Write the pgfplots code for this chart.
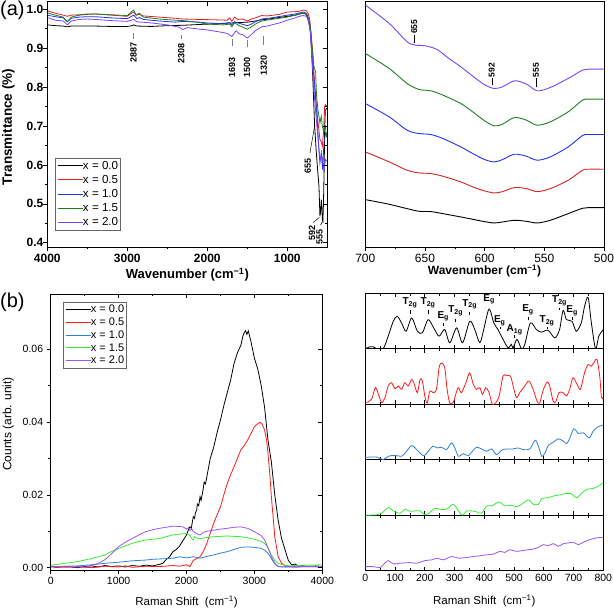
\documentclass[border=0pt]{standalone}
\usepackage{fontspec}
\setmainfont{Liberation Sans}
\usepackage{pgfplots}
\pgfplotsset{compat=1.18}
\definecolor{ared}{HTML}{DD2222}
\definecolor{ablue}{HTML}{2233EE}
\definecolor{agreen}{HTML}{1F7F1F}
\definecolor{apurple}{HTML}{7744FF}
\definecolor{bred}{HTML}{FF1A1A}
\definecolor{bblue}{HTML}{2E7FD9}
\definecolor{bgreen}{HTML}{33EE33}
\definecolor{bpurple}{HTML}{9955F5}
\newcommand{\fs}[1]{\fontsize{#1}{#1}\selectfont}
\pgfplotsset{
  base/.style={scale only axis, anchor=south west, scaled ticks=false,
    /pgf/number format/assume math mode=true, /pgf/number format/1000 sep={},
    major tick length=4pt, minor tick length=2.5pt,
    axis line style={line width=0.8pt},
    every tick/.style={line width=0.6pt, black}},
  sub/.style={base, width=238pt, height=55.5pt, xmin=0, xmax=800, ymin=0, ymax=1,
    ytick=\empty, xtick={0,100,...,800}, minor x tick num=1, tick align=inside,
    xtick pos=both, xticklabels={}},
}
\begin{document}
\begin{tikzpicture}[x=1pt,y=1pt]
\useasboundingbox (0,0) rectangle (614,611);

% ---------------- panel (a) left ----------------
\begin{axis}[base, at={(47.3pt,364pt)}, width=280pt, height=245.3pt, x dir=reverse,
  xmin=500, xmax=4000, ymin=0.389, ymax=1.0196,
  xtick={1000,2000,3000,4000}, minor x tick num=1,
  ytick={0.4,0.5,0.6,0.7,0.8,0.9,1.0}, minor y tick num=1,
  tick align=outside, xtick pos=bottom, ytick pos=left,
  ticklabel style={font=\bfseries\fs{12}},
  yticklabel style={xshift=3.5pt,/pgf/number format/fixed,/pgf/number format/fixed zerofill,/pgf/number format/precision=1},
  legend style={at={(0.0275,0.069)}, anchor=south west, font=\fs{11.6}, draw=black!60,
    row sep=3.2pt, inner xsep=2pt, inner ysep=2pt,
    nodes={inner sep=0pt, text height=9pt, text depth=2pt}, cells={anchor=west},
    /tikz/every even column/.append style={column sep=3pt}},
  legend image code/.code={\draw[#1] (0pt,0pt) -- (25pt,0pt);},
  every axis plot/.append style={line width=0.8pt}]
\addplot[black] coordinates {(4000,0.960)(3900,0.958)(3800,0.957)(3750,0.955)(3700,0.957)(3600,0.957)(3400,0.957)(3200,0.956)(3000,0.956)(2940,0.958)(2920,0.960)(2880,0.957)(2700,0.956)(2500,0.958)(2300,0.959)(2100,0.961)(2000,0.962)(1800,0.964)(1693,0.965)(1600,0.966)(1500,0.967)(1400,0.970)(1320,0.973)(1200,0.976)(1000,0.982)(900,0.985)(850,0.988)(800,0.990)(770,0.988)(745,0.978)(725,0.960)(708,0.939)(687,0.853)(675,0.790)(658,0.700)(640,0.640)(620,0.585)(604,0.545)(592,0.468)(583,0.480)(575,0.511)(568,0.490)(562,0.460)(555,0.455)(548,0.500)(540,0.580)(532,0.700)(525,0.740)(510,0.745)(500,0.745)};
\addlegendentry{x = 0.0}
\addplot[ared] coordinates {(4000,0.996)(3900,0.990)(3800,0.985)(3750,0.982)(3700,0.985)(3600,0.986)(3500,0.988)(3400,0.988)(3200,0.985)(3000,0.982)(2940,0.991)(2920,0.993)(2890,0.985)(2850,0.987)(2800,0.983)(2600,0.980)(2400,0.977)(2300,0.975)(2100,0.974)(1900,0.973)(1750,0.972)(1720,0.978)(1693,0.969)(1660,0.980)(1620,0.974)(1560,0.975)(1500,0.970)(1450,0.975)(1400,0.978)(1320,0.984)(1250,0.983)(1100,0.987)(1000,0.993)(900,0.994)(850,0.995)(800,0.998)(760,0.996)(740,0.990)(720,0.975)(708,0.950)(687,0.900)(667,0.836)(645,0.775)(624,0.725)(605,0.690)(592,0.665)(575,0.660)(562,0.648)(545,0.690)(533,0.751)(520,0.755)(508,0.751)(500,0.750)};
\addlegendentry{x = 0.5}
\addplot[ablue] coordinates {(4000,0.985)(3900,0.981)(3800,0.978)(3750,0.968)(3700,0.977)(3600,0.980)(3500,0.981)(3400,0.981)(3200,0.978)(3000,0.976)(2920,0.985)(2880,0.976)(2850,0.979)(2800,0.974)(2600,0.970)(2400,0.967)(2300,0.969)(2100,0.967)(2000,0.965)(1800,0.963)(1720,0.966)(1693,0.960)(1660,0.968)(1600,0.964)(1500,0.958)(1450,0.962)(1400,0.968)(1320,0.975)(1200,0.978)(1000,0.985)(900,0.988)(800,0.993)(760,0.990)(740,0.980)(720,0.965)(708,0.940)(687,0.870)(658,0.802)(635,0.740)(624,0.708)(605,0.640)(592,0.605)(575,0.631)(558,0.588)(542,0.656)(521,0.682)(508,0.680)(500,0.680)};
\addlegendentry{x = 1.0}
\addplot[agreen] coordinates {(4000,0.991)(3900,0.985)(3800,0.980)(3750,0.968)(3700,0.980)(3600,0.985)(3500,0.987)(3400,0.988)(3200,0.986)(3000,0.984)(2940,0.995)(2920,0.998)(2890,0.985)(2850,0.990)(2800,0.980)(2600,0.975)(2400,0.972)(2300,0.971)(2100,0.966)(2000,0.962)(1800,0.960)(1720,0.962)(1693,0.955)(1660,0.965)(1600,0.958)(1500,0.949)(1450,0.955)(1400,0.962)(1320,0.970)(1200,0.974)(1000,0.980)(900,0.985)(800,0.990)(760,0.988)(740,0.978)(720,0.965)(708,0.945)(687,0.900)(667,0.853)(655,0.845)(646,0.840)(635,0.780)(617,0.742)(592,0.708)(575,0.725)(562,0.700)(545,0.685)(525,0.699)(508,0.673)(500,0.670)};
\addlegendentry{x = 1.5}
\addplot[apurple] coordinates {(4000,0.979)(3900,0.972)(3800,0.970)(3750,0.960)(3700,0.970)(3600,0.974)(3500,0.975)(3400,0.974)(3200,0.971)(3000,0.969)(2920,0.974)(2880,0.968)(2700,0.965)(2500,0.960)(2350,0.954)(2308,0.948)(2250,0.953)(2100,0.949)(2000,0.947)(1850,0.942)(1750,0.938)(1693,0.930)(1660,0.940)(1640,0.945)(1600,0.937)(1550,0.934)(1500,0.926)(1450,0.935)(1400,0.945)(1320,0.955)(1250,0.957)(1100,0.965)(1000,0.972)(900,0.978)(850,0.982)(800,0.984)(760,0.982)(740,0.972)(720,0.955)(708,0.930)(687,0.860)(658,0.768)(630,0.700)(604,0.639)(592,0.620)(583,0.614)(575,0.622)(562,0.620)(542,0.588)(521,0.614)(510,0.610)(500,0.610)};
\addlegendentry{x = 2.0}
% annotations
\draw[gray,line width=0.6pt] (axis cs:2922,0.938) -- (axis cs:2922,0.923);
\node[rotate=90,font=\bfseries\fs{9}] at (axis cs:2922,0.890) {2887};
\draw[gray,line width=0.6pt] (axis cs:2325,0.934) -- (axis cs:2325,0.924);
\node[rotate=90,font=\bfseries\fs{9}] at (axis cs:2325,0.887) {2308};
\draw[gray,line width=0.6pt] (axis cs:1690,0.923) -- (axis cs:1690,0.906);
\node[rotate=90,font=\bfseries\fs{9}] at (axis cs:1690,0.851) {1693};
\draw[gray,line width=0.6pt] (axis cs:1502,0.921) -- (axis cs:1502,0.904);
\node[rotate=90,font=\bfseries\fs{9}] at (axis cs:1502,0.851) {1500};
\draw[gray,line width=0.6pt] (axis cs:1294,0.932) -- (axis cs:1294,0.909);
\node[rotate=90,font=\bfseries\fs{9}] at (axis cs:1294,0.856) {1320};
\node[rotate=90,font=\bfseries\fs{9}] at (axis cs:745,0.597) {655};
\draw[black,line width=0.5pt] (axis cs:717,0.631) -- (axis cs:658,0.700);
\node[rotate=90,font=\bfseries\fs{9}] at (axis cs:690,0.425) {592};
\node[rotate=90,font=\bfseries\fs{9}] at (axis cs:595,0.415) {555};
\draw[black,line width=0.5pt] (axis cs:675,0.452) -- (axis cs:600,0.465);
\draw[black,line width=0.5pt] (axis cs:585,0.445) -- (axis cs:560,0.455);
\end{axis}
\begin{axis}[base, at={(47.3pt,364pt)}, width=280pt, height=245.3pt, x dir=reverse,
  xmin=500, xmax=4000, ymin=0.389, ymax=1.0196,
  xtick={1000,2000,3000,4000}, minor x tick num=1,
  ytick={0.4,0.5,0.6,0.7,0.8,0.9,1.0}, minor y tick num=1,
  tick align=inside, xtick pos=top, ytick pos=right, xticklabels={}, yticklabels={}]
\end{axis}
\node[anchor=north west,inner sep=0pt,font=\fs{20}] at (0,610) {(a)};
\node[rotate=90,font=\bfseries\fs{13.5}] at (8.3,484) {Transmittance (\%)};
\node[font=\bfseries\fs{13}] at (187.3,336) {Wavenumber (cm\textsuperscript{−1})};

% ---------------- panel (a) right ----------------
\begin{axis}[base, at={(365.3pt,364pt)}, width=238.7pt, height=245.3pt, x dir=reverse,
  xmin=500, xmax=700, ymin=0, ymax=735, ytick=\empty,
  xtick={500,550,600,650,700}, minor x tick num=1, tick align=outside, xtick pos=bottom,
  ticklabel style={font=\fs{12}},
  every axis plot/.append style={line width=0.9pt, smooth}]
\addplot[black] coordinates {(700,142)(680,128)(665,115)(655,107)(645,106)(635,100)(620,90)(610,83)(600,76)(592,72)(585,75)(575,80)(565,77)(556,72)(545,80)(530,100)(518,116)(513,118)(500,118)};
\addplot[ared] coordinates {(700,285)(680,255)(665,230)(655,222)(645,220)(635,212)(620,195)(610,180)(600,168)(592,162)(585,166)(575,178)(565,175)(556,166)(545,175)(530,200)(518,230)(513,233)(500,233)};
\addplot[ablue] coordinates {(700,430)(680,390)(665,350)(655,340)(645,337)(635,325)(620,300)(610,280)(600,262)(592,255)(585,262)(575,278)(565,272)(556,260)(545,270)(530,300)(518,334)(513,337)(500,337)};
\addplot[agreen] coordinates {(700,580)(680,535)(665,490)(655,472)(645,468)(635,455)(620,430)(610,405)(600,378)(592,363)(585,368)(575,388)(565,380)(556,365)(545,375)(530,405)(518,440)(513,443)(500,443)};
\addplot[apurple] coordinates {(700,725)(680,670)(665,615)(658,605)(650,603)(640,592)(630,565)(620,540)(610,512)(600,486)(592,475)(585,480)(575,498)(565,488)(556,468)(545,478)(530,505)(518,530)(513,533)(500,533)};
\draw[black,line width=0.6pt] (axis cs:659,610) -- (axis cs:659,635);
\node[rotate=90,font=\bfseries\fs{8.5}] at (axis cs:659,660) {655};
\draw[black,line width=0.6pt] (axis cs:594,485) -- (axis cs:594,505);
\node[rotate=90,font=\bfseries\fs{8.5}] at (axis cs:594,530) {592};
\draw[black,line width=0.6pt] (axis cs:557,480) -- (axis cs:557,505);
\node[rotate=90,font=\bfseries\fs{8.5}] at (axis cs:557,530) {555};
\end{axis}
\node[font=\bfseries\fs{12}] at (484.5,340) {Wavenumber (cm\textsuperscript{−1})};

% ---------------- panel (b) left ----------------
\begin{axis}[base, at={(50.7pt,41pt)}, width=271.6pt, height=276pt,
  xmin=0, xmax=4000, ymin=-0.00063, ymax=0.0751,
  xtick={0,1000,2000,3000,4000}, minor x tick num=1,
  ytick={0,0.02,0.04,0.06}, minor y tick num=1,
  yticklabel style={/pgf/number format/fixed,/pgf/number format/fixed zerofill,/pgf/number format/precision=2},
  tick align=outside, xtick pos=bottom, ytick pos=left,
  ticklabel style={font=\fs{10.5}},
  legend style={at={(0.045,0.971)}, anchor=north west, font=\fs{11}, draw=black!60,
    row sep=2.3pt, inner xsep=2pt, inner ysep=2pt,
    nodes={inner sep=0pt, text height=8.5pt, text depth=2pt}, cells={anchor=west},
    /tikz/every even column/.append style={column sep=3pt}},
  legend image code/.code={\draw[#1] (0pt,0pt) -- (25pt,0pt);},
  every axis plot/.append style={line width=0.8pt}]
\addplot[black] coordinates {(0,0.0003)(100,0.0001)(200,0.0004)(300,0.0002)(400,0.0000)(500,0.0003)(600,0.0005)(700,0.0002)(800,0.0006)(900,0.0003)(1000,0.0005)(1100,0.0002)(1200,0.0006)(1300,0.0004)(1400,0.0007)(1500,0.0005)(1600,0.0009)(1650,0.0012)(1700,0.0022)(1750,0.0030)(1800,0.0044)(1850,0.0050)(1900,0.0060)(1950,0.0075)(2000,0.0090)(2030,0.0105)(2050,0.0112)(2070,0.0108)(2100,0.0140)(2120,0.0135)(2130,0.0150)(2150,0.0158)(2160,0.0175)(2180,0.0170)(2200,0.0195)(2215,0.0185)(2230,0.0200)(2245,0.0215)(2260,0.0235)(2280,0.0230)(2300,0.0250)(2350,0.0300)(2400,0.0330)(2450,0.0370)(2500,0.0405)(2550,0.0445)(2600,0.0480)(2650,0.0515)(2700,0.0560)(2750,0.0590)(2800,0.0610)(2830,0.0635)(2850,0.0645)(2870,0.0650)(2890,0.0640)(2910,0.0650)(2950,0.0620)(3000,0.0575)(3050,0.0545)(3100,0.0500)(3150,0.0440)(3200,0.0350)(3250,0.0290)(3300,0.0200)(3350,0.0130)(3400,0.0080)(3450,0.0050)(3500,0.0020)(3550,0.0008)(3600,0.0010)(3650,0.0004)(3700,0.0006)(3800,0.0003)(3900,0.0005)(4000,0.0003)};
\addlegendentry{x = 0.0}
\addplot[bred] coordinates {(0,0.0002)(200,0.0001)(400,0.0003)(600,0.0000)(800,0.0004)(1000,0.0002)(1100,0.0005)(1200,0.0001)(1400,0.0004)(1600,0.0003)(1800,0.0006)(1900,0.0004)(2000,0.0008)(2050,0.0003)(2100,0.0020)(2150,0.0025)(2200,0.0030)(2250,0.0045)(2300,0.0067)(2350,0.0095)(2400,0.0122)(2450,0.0145)(2500,0.0167)(2550,0.0200)(2600,0.0231)(2650,0.0255)(2700,0.0277)(2750,0.0300)(2800,0.0323)(2850,0.0335)(2900,0.0350)(2950,0.0368)(3000,0.0387)(3050,0.0395)(3080,0.0399)(3110,0.0395)(3150,0.0378)(3180,0.0350)(3200,0.0314)(3230,0.0250)(3250,0.0195)(3280,0.0130)(3300,0.0085)(3350,0.0030)(3400,0.0012)(3450,0.0006)(3500,0.0003)(3600,0.0002)(3800,0.0004)(4000,0.0002)};
\addlegendentry{x = 0.5}
\addplot[bblue] coordinates {(0,0.0003)(200,0.0004)(400,0.0005)(600,0.0008)(800,0.0012)(1000,0.0015)(1200,0.0019)(1400,0.0021)(1500,0.0023)(1600,0.0024)(1800,0.0026)(1900,0.0030)(2000,0.0027)(2100,0.0030)(2200,0.0026)(2300,0.0031)(2400,0.0035)(2500,0.0040)(2600,0.0044)(2700,0.0050)(2800,0.0056)(2900,0.0057)(3000,0.0056)(3100,0.0053)(3150,0.0048)(3200,0.0040)(3250,0.0025)(3300,0.0010)(3350,0.0003)(3500,0.0002)(4000,0.0003)};
\addlegendentry{x = 1.0}
\addplot[bgreen] coordinates {(0,0.0007)(100,0.0009)(200,0.0012)(300,0.0014)(400,0.0017)(500,0.0021)(600,0.0025)(700,0.0030)(800,0.0035)(900,0.0045)(1000,0.0053)(1100,0.0060)(1200,0.0067)(1300,0.0072)(1400,0.0076)(1500,0.0078)(1600,0.0080)(1700,0.0085)(1800,0.0090)(1900,0.0092)(2000,0.0094)(2050,0.0088)(2080,0.0079)(2100,0.0076)(2120,0.0085)(2150,0.0082)(2200,0.0080)(2300,0.0083)(2400,0.0085)(2500,0.0086)(2600,0.0087)(2700,0.0086)(2800,0.0085)(2900,0.0082)(3000,0.0078)(3100,0.0072)(3150,0.0067)(3200,0.0055)(3250,0.0035)(3300,0.0020)(3350,0.0012)(3400,0.0009)(3500,0.0005)(3600,0.0006)(3800,0.0007)(4000,0.0008)};
\addlegendentry{x = 1.5}
\addplot[bpurple] coordinates {(0,0.0004)(200,0.0003)(400,0.0002)(500,0.0001)(600,0.0006)(700,0.0012)(800,0.0022)(900,0.0039)(1000,0.0058)(1100,0.0070)(1200,0.0080)(1300,0.0090)(1400,0.0099)(1500,0.0104)(1600,0.0108)(1700,0.0111)(1800,0.0114)(1900,0.0113)(1950,0.0112)(2000,0.0106)(2030,0.0110)(2050,0.0102)(2080,0.0106)(2100,0.0099)(2150,0.0093)(2200,0.0090)(2250,0.0097)(2300,0.0100)(2400,0.0103)(2500,0.0106)(2600,0.0108)(2700,0.0111)(2800,0.0112)(2900,0.0108)(3000,0.0099)(3100,0.0088)(3150,0.0076)(3200,0.0055)(3250,0.0030)(3300,0.0012)(3350,0.0004)(3400,0.0002)(3600,0.0003)(4000,0.0003)};
\addlegendentry{x = 2.0}
\end{axis}
\begin{axis}[base, at={(50.7pt,41pt)}, width=271.6pt, height=276pt,
  xmin=0, xmax=4000, ymin=-0.00063, ymax=0.0751,
  xtick={0,1000,2000,3000,4000}, minor x tick num=1,
  ytick={0,0.02,0.04,0.06}, minor y tick num=1,
  tick align=inside, xtick pos=top, ytick pos=right, xticklabels={}, yticklabels={}]
\end{axis}
\node[anchor=north west,inner sep=0pt,font=\fs{20}] at (0,318) {(b)};
\node[rotate=90,font=\fs{12}] at (8.3,187) {Counts (arb. unit)};
\node[font=\fs{11.5}] at (186.5,9.3) {Raman Shift\ \ (cm\textsuperscript{−1})};

% ---------------- panel (b) right ----------------
\begin{axis}[sub, at={(365.3pt,40.3pt)}, xticklabels={0,100,200,300,400,500,600,700,800}, ticklabel style={font=\fs{10.5}}, every axis plot/.append style={line width=0.8pt, smooth}]
\addplot[bpurple] coordinates {(0,0.073)(27,0.073)(49,0.055)(60,0.104)(77,0.183)(94,0.122)(117,0.134)(150,0.146)(173,0.134)(201,0.183)(223,0.195)(242,0.226)(262,0.195)(290,0.256)(313,0.226)(341,0.238)(363,0.256)(385,0.268)(408,0.287)(430,0.299)(453,0.348)(469,0.329)(486,0.378)(509,0.348)(531,0.366)(548,0.378)(565,0.390)(582,0.421)(598,0.470)(615,0.451)(632,0.488)(649,0.439)(666,0.488)(683,0.500)(699,0.512)(716,0.470)(733,0.512)(755,0.561)(778,0.591)(800,0.604)};
\end{axis}
\begin{axis}[sub, at={(365.3pt,95.8pt)}, every axis plot/.append style={line width=0.8pt, smooth}]
\addplot[bgreen] coordinates {(0,0.0)(38,0.006)(55,0.036)(77,0.137)(94,0.077)(117,0.036)(133,0.107)(150,0.071)(167,0.077)(184,0.077)(201,0.006)(217,0.048)(234,0.125)(251,0.107)(273,0.107)(296,0.196)(313,0.077)(327,0.0)(341,0.077)(357,0.077)(374,0.060)(391,0.036)(408,0.167)(425,0.167)(450,0.238)(469,0.167)(488,0.179)(509,0.155)(525,0.196)(548,0.274)(565,0.196)(582,0.196)(593,0.298)(615,0.315)(632,0.345)(649,0.363)(660,0.375)(677,0.393)(690,0.393)(710,0.315)(727,0.393)(744,0.464)(766,0.482)(783,0.524)(800,0.583)};
\end{axis}
\begin{axis}[sub, at={(365.3pt,151.3pt)}, every axis plot/.append style={line width=0.8pt, smooth}]
\addplot[bblue] coordinates {(0,0.042)(38,0.048)(60,0.0)(77,0.061)(100,0.079)(122,0.061)(139,0.152)(156,0.255)(173,0.182)(195,0.073)(212,0.152)(226,0.242)(242,0.212)(257,0.224)(273,0.182)(290,0.303)(301,0.212)(313,0.061)(329,0.109)(346,0.073)(363,0.170)(374,0.224)(391,0.194)(408,0.152)(425,0.194)(441,0.091)(458,0.170)(475,0.194)(497,0.194)(514,0.212)(531,0.182)(553,0.194)(571,0.352)(582,0.242)(593,0.061)(604,0.121)(615,0.255)(632,0.315)(649,0.376)(666,0.333)(677,0.291)(688,0.394)(701,0.558)(716,0.473)(733,0.485)(753,0.394)(766,0.515)(783,0.594)(800,0.624)};
\end{axis}
\begin{axis}[sub, at={(365.3pt,206.8pt)}, every axis plot/.append style={line width=0.8pt, smooth}]
\addplot[bred] coordinates {(4,0.030)(21,0.089)(34,0.298)(44,0.179)(55,0.030)(66,0.119)(77,0.327)(88,0.387)(100,0.280)(111,0.327)(122,0.268)(133,0.387)(144,0.327)(156,0.446)(163,0.387)(175,0.208)(184,0.446)(192,0.417)(200,0.149)(208,0.018)(217,0.238)(228,0.208)(239,0.268)(248,0.655)(256,0.744)(267,0.655)(275,0.268)(284,0.018)(295,0.030)(301,0.119)(312,0.298)(323,0.208)(338,0.387)(351,0.565)(363,0.357)(374,0.268)(385,0.298)(394,0.179)(405,0.298)(416,0.208)(427,0.0)(439,0.030)(450,0.149)(463,0.506)(474,0.518)(488,0.506)(497,0.327)(508,0.119)(519,0.208)(536,0.327)(550,0.417)(564,0.268)(577,0.060)(586,0.018)(597,0.238)(611,0.399)(620,0.327)(631,0.060)(640,0.042)(651,0.208)(665,0.208)(676,0.149)(687,0.268)(698,0.476)(712,0.357)(723,0.268)(737,0.565)(749,0.714)(760,0.685)(771,0.774)(779,0.804)(788,0.506)(794,0.119)(800,0.119)};
\end{axis}
\begin{axis}[sub, at={(365.3pt,262.3pt)}, every axis plot/.append style={line width=0.8pt, smooth}]
\addplot[black] coordinates {(0,0.0)(16,0.036)(27,0.036)(38,0.0)(60,0.0)(77,0.226)(94,0.494)(107,0.583)(122,0.464)(137,0.315)(156,0.554)(175,0.315)(192,0.286)(211,0.524)(230,0.375)(248,0.226)(267,0.345)(284,0.107)(307,0.375)(327,0.107)(351,0.494)(368,0.345)(385,0.107)(398,0.345)(416,0.714)(432,0.464)(446,0.345)(463,0.167)(480,0.018)(491,0.077)(497,0.018)(510,0.167)(525,0.0)(536,0.077)(555,0.464)(575,0.345)(592,0.298)(614,0.333)(637,0.196)(653,0.345)(665,0.690)(676,0.524)(695,0.494)(709,0.315)(726,0.464)(737,0.762)(749,0.923)(760,0.464)(774,0.0)(785,0.226)(800,0.345)};
\tikzset{lbl/.style={font=\bfseries\fs{10},inner sep=0pt}}
\node[lbl] at (axis cs:150,0.83) {T\textsubscript{2g}};
\draw[line width=0.5pt] (axis cs:150,0.69) -- (axis cs:150,0.63);
\node[lbl] at (axis cs:211,0.83) {T\textsubscript{2g}};
\draw[line width=0.5pt] (axis cs:211,0.69) -- (axis cs:211,0.63);
\node[lbl] at (axis cs:262,0.58) {E\textsubscript{g}};
\draw[line width=0.5pt] (axis cs:262,0.46) -- (axis cs:262,0.41);
\node[lbl] at (axis cs:304,0.68) {T\textsubscript{2g}};
\draw[line width=0.5pt] (axis cs:304,0.54) -- (axis cs:304,0.48);
\node[lbl] at (axis cs:351,0.80) {T\textsubscript{2g}};
\draw[line width=0.5pt] (axis cs:351,0.66) -- (axis cs:351,0.60);
\node[lbl] at (axis cs:416,0.89) {E\textsubscript{g}};
\node[lbl] at (axis cs:452,0.50) {E\textsubscript{g}};
\draw[line width=0.5pt] (axis cs:452,0.39) -- (axis cs:452,0.35);
\node[lbl] at (axis cs:502,0.34) {A\textsubscript{1g}};
\draw[line width=0.5pt] (axis cs:502,0.24) -- (axis cs:502,0.19);
\node[lbl] at (axis cs:547,0.70) {E\textsubscript{g}};
\draw[line width=0.5pt] (axis cs:547,0.58) -- (axis cs:547,0.52);
\node[lbl] at (axis cs:611,0.50) {T\textsubscript{2g}};
\draw[line width=0.5pt] (axis cs:611,0.39) -- (axis cs:611,0.35);
\node[lbl] at (axis cs:653,0.86) {T\textsubscript{2g}};
\draw[line width=0.5pt] (axis cs:653,0.73) -- (axis cs:653,0.69);
\node[lbl] at (axis cs:695,0.68) {E\textsubscript{g}};
\draw[line width=0.5pt] (axis cs:695,0.57) -- (axis cs:695,0.52);
\end{axis}
\node[font=\fs{11.5}] at (484.3,10.3) {Raman Shift\ \ (cm\textsuperscript{−1})};
\end{tikzpicture}
\end{document}
